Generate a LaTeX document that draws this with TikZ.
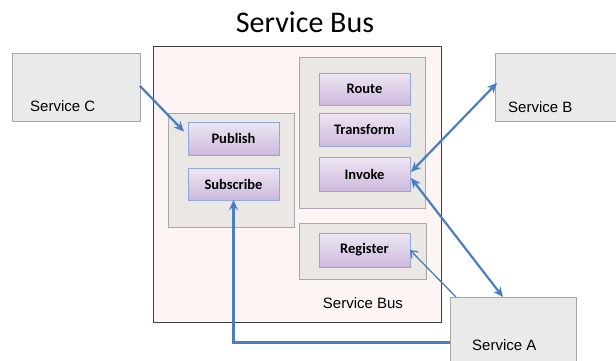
\documentclass[tikz,border=0pt]{standalone}
\usepackage{fontspec}
\setmainfont{Carlito}
\newfontfamily\arialfont{Liberation Sans}
\usetikzlibrary{arrows.meta,calc}

\definecolor{busfill}{HTML}{FDF5F4}
\definecolor{busline}{HTML}{404040}
\definecolor{grpfill}{HTML}{EAE7E4}
\definecolor{grpline}{HTML}{A8A8A8}
\definecolor{svcfill}{HTML}{EAEAEA}
\definecolor{svcline}{HTML}{A6A6A6}
\definecolor{optop}{HTML}{EEE6F3}
\definecolor{opbot}{HTML}{CDB9DD}
\definecolor{opline}{HTML}{8EAADB}
\definecolor{flow}{HTML}{4A7EC0}

\tikzset{
  box/.style={rectangle, inner sep=0pt, outer sep=0pt},
  busbox/.style={box, draw=busline, fill=busfill, line width=0.8pt},
  grpbox/.style={box, draw=grpline, fill=grpfill, line width=0.8pt},
  svcbox/.style={box, draw=svcline, fill=svcfill, line width=0.8pt},
  opbox/.style={box, draw=opline, line width=1pt, top color=optop, bottom color=opbot,
    minimum width=91pt, font=\fontsize{14.5}{16}\selectfont\bfseries},
  svclabel/.style={anchor=west, inner sep=0pt, font=\arialfont\fontsize{15}{17}\selectfont},
  flowarrow/.style={draw=flow, line width=2.2pt, {Stealth[length=10pt,width=9pt]}-{Stealth[length=10pt,width=9pt]}},
  flowto/.style={draw=flow, line width=2.2pt, -{Stealth[length=10pt,width=9pt]}},
  thinto/.style={draw=flow, line width=1.3pt, -{Straight Barb[length=6pt,width=9pt]}}
}

\begin{document}
\begin{tikzpicture}[x=1pt,y=-1pt]
\useasboundingbox (0,0) rectangle (616,360);
\clip (0,0) rectangle (616,360);

% title
\node[inner sep=0pt, font=\fontsize{30}{34}\selectfont] (title) at (305,22) {Service Bus};

% external services
\node[svcbox, minimum width=128pt, minimum height=68pt] (svcC) at (76,87) {};
\node[svcbox, minimum width=135pt, minimum height=68pt] (svcB) at (562.5,87) {};

% the bus
\node[busbox, minimum width=288pt, minimum height=276pt] (bus) at (297,184) {};
\node[inner sep=0pt, font=\arialfont\fontsize{15}{17}\selectfont] (buslabel) at (363,303) {Service Bus};

% operation groups
\node[grpbox, minimum width=126pt, minimum height=114pt] (grpL) at (231,170) {};
\node[grpbox, minimum width=126pt, minimum height=151pt] (grpR) at (362,132.5) {};
\node[grpbox, minimum width=127pt, minimum height=56pt] (grpReg) at (362.5,251) {};

% operations
\node[opbox, minimum height=33pt] (pub) at (233.5,138.5) {Publish};
\node[opbox, minimum height=32pt] (sub) at (233.5,184) {Subscribe};
\node[opbox, minimum height=32pt] (route) at (364.5,89) {Route};
\node[opbox, minimum height=33pt] (trans) at (364.5,129.5) {Transform};
\node[opbox, minimum height=34pt] (inv) at (364.5,174) {Invoke};
\node[opbox, minimum height=34pt] (reg) at (364.5,250) {Register};

% service A (runs off the lower edge)
\node[svcbox, minimum width=126pt, minimum height=91pt] (svcA) at (513,342.5) {};

% service labels
\node[svclabel] (labC) at (30,106) {Service C};
\node[svclabel] (labB) at (508,107) {Service B};
\node[svclabel] (labA) at (472,345) {Service A};

% connectors
\draw[flowto] ([yshift=1pt]svcC.east) -- ([shift={(-4,-7)}]pub.west);
\draw[flowarrow] ([shift={(2,-4)}]svcB.west) -- ([shift={(1,-2)}]inv.east);
\draw[flowarrow] ([shift={(1,4)}]inv.east) -- ($(svcA.north west)!0.42!(svcA.north east)$);
\draw[thinto] ([xshift=6pt]svcA.north west) -- (reg.east);
\draw[flowto] (svcA.west) -| (sub.south);
\end{tikzpicture}
\end{document}
